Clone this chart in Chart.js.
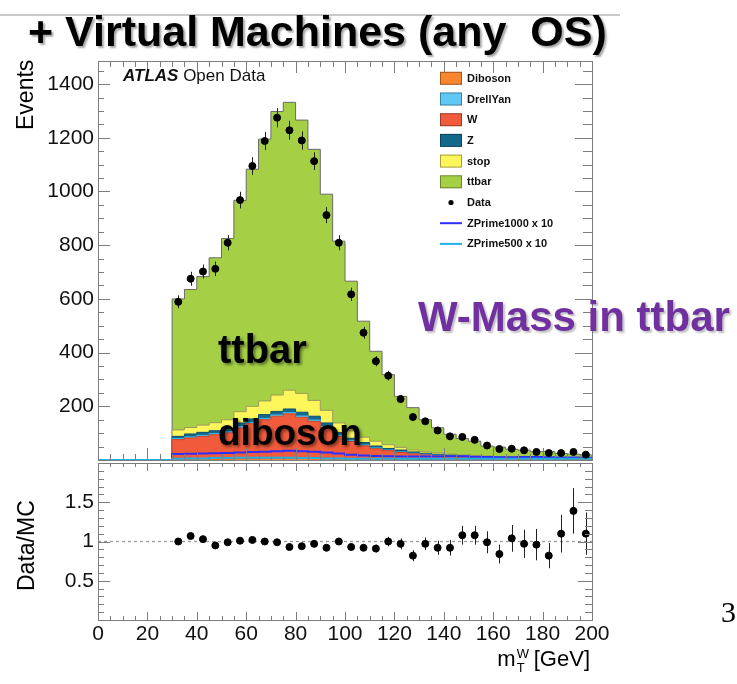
<!DOCTYPE html>
<html>
<head>
<meta charset="utf-8">
<title>W-Mass in ttbar</title>
<script src="https://cdn.jsdelivr.net/npm/chart.js@4.4.1/dist/chart.umd.min.js"></script>
<style>
  body { margin: 0; background: #fff; }
  #page { position: relative; width: 737px; height: 684px; overflow: hidden; font-family: "Liberation Sans", Arial, sans-serif; }
  canvas { position: absolute; left: 0; top: 0; }
  .txt { position: absolute; white-space: pre; line-height: 1; }
  #slideLine { position: absolute; left: 0; top: 14px; width: 620px; height: 2px; background: #c9c9c9; }
  #title { left: 28px; top: 10px; font-size: 43px; font-weight: bold; color: #000; text-shadow: 2px 2px 2px rgba(0,0,0,0.35); }
  #atlas { left: 123px; top: 67px; font-size: 17px; color: #111; }
  #atlas b { font-style: italic; }
  #ttbarTxt { left: 218px; top: 329px; font-size: 40px; font-weight: bold; color: #000; text-shadow: 2px 2px 3px rgba(0,0,0,0.45); }
  #dibosonTxt { left: 218px; top: 414px; font-size: 37px; font-weight: bold; color: #000; text-shadow: 2px 2px 3px rgba(0,0,0,0.45); }
  #wmassTxt { left: 418px; top: 296px; font-size: 42px; font-weight: bold; color: #7030a0; text-shadow: 2px 2px 2px rgba(0,0,0,0.25); }
  #pageNo { left: 721px; top: 597px; font-size: 30px; font-family: "Liberation Serif", "Times New Roman", serif; color: #000; }
  #yTitle { left: 14px; top: 130px; font-size: 23px; transform: rotate(-90deg); transform-origin: left top; }
  #rTitle { left: 15px; top: 591px; font-size: 23px; transform: rotate(-90deg); transform-origin: left top; }
  #xTitle { right: 147px; top: 648px; font-size: 22px; }
  #xTitle .ss { position: relative; display: inline-block; width: 12px; height: 22px; vertical-align: top; }
  #xTitle .ss span { position: absolute; left: 1px; font-size: 13px; line-height: 1; }
</style>
</head>
<body>
<div id="page">
  <div id="slideLine"></div>
  <canvas id="mainChart" width="737" height="684"></canvas>
  <canvas id="ratioChart" width="737" height="684"></canvas>
  <div class="txt" id="title">+ Virtual Machines (any  OS)</div>
  <div class="txt" id="atlas"><b>ATLAS</b> Open Data</div>
  <div class="txt" id="ttbarTxt">ttbar</div>
  <div class="txt" id="dibosonTxt">diboson</div>
  <div class="txt" id="wmassTxt">W-Mass in ttbar</div>
  <div class="txt" id="pageNo">3</div>
  <div class="txt" id="yTitle">Events</div>
  <div class="txt" id="rTitle">Data/MC</div>
  <div class="txt" id="xTitle">m<span class="ss"><span style="top:-1px">W</span><span style="top:13px">T</span></span> [GeV]</div>
</div>
<script>
// 5 GeV bins from 0 to 200 GeV (lower edges plus the last upper edge)
var binEdges = [0, 5, 10, 15, 20, 25, 30, 35, 40, 45, 50, 55, 60, 65, 70, 75, 80, 85, 90, 95,
                100, 105, 110, 115, 120, 125, 130, 135, 140, 145, 150, 155, 160, 165, 170, 175, 180, 185, 190, 195, 200];
// centres of the bins holding data (after the 30 GeV cut)
var binCentres = [32.5, 37.5, 42.5, 47.5, 52.5, 57.5, 62.5, 67.5, 72.5, 77.5, 82.5, 87.5, 92.5, 97.5,
                  102.5, 107.5, 112.5, 117.5, 122.5, 127.5, 132.5, 137.5, 142.5, 147.5, 152.5, 157.5,
                  162.5, 167.5, 172.5, 177.5, 182.5, 187.5, 192.5, 197.5];

// MC samples, events per bin (stacked bottom to top)
var diboson   = [0, 0, 0, 0, 0, 0, 3, 3, 4, 4, 4, 5, 5, 6, 6, 6, 6, 5, 5, 4, 4, 3, 3, 3, 2, 2, 2, 2, 1, 1, 1, 1, 1, 1, 1, 1, 1, 1, 1, 1];
var wJets     = [0, 0, 0, 0, 0, 0, 73, 79, 84, 90, 97, 114, 130, 144, 157, 166, 153, 139, 114, 84, 65, 50, 39, 32, 26, 21, 17, 14, 12, 10, 9, 7, 6, 5, 5, 4, 4, 3, 3, 3];
var drellYan  = [0, 0, 0, 0, 0, 0, 4, 4, 4, 4, 4, 5, 5, 5, 5, 5, 5, 5, 5, 4, 3, 3, 3, 2, 2, 2, 2, 2, 1, 1, 1, 1, 1, 1, 1, 1, 1, 1, 1, 1];
var zJets     = [0, 0, 0, 0, 0, 0, 8, 11, 11, 11, 13, 14, 13, 14, 13, 13, 14, 14, 14, 10, 9, 9, 7, 6, 7, 5, 4, 3, 4, 3, 2, 2, 2, 2, 1, 1, 1, 1, 1, 1];
var singleTop = [0, 0, 0, 0, 0, 0, 24, 24, 27, 30, 32, 42, 47, 51, 61, 70, 70, 59, 47, 36, 28, 20, 18, 14, 10, 7, 6, 5, 4, 4, 4, 4, 3, 3, 3, 3, 2, 2, 2, 2];
var ttbar     = [0, 0, 0, 0, 0, 0, 488, 514, 553, 614, 675, 787, 883, 975, 1056, 1072, 1018, 935, 805, 677, 557, 432, 335, 261, 190, 158, 119, 94, 74, 61, 53, 37, 35, 28, 26, 21, 23, 16, 14, 11];

// signal shapes scaled by 10
var zPrime1000 = [0, 0, 0, 0, 0, 0, 22, 23, 24, 25, 26, 28, 30, 31, 33, 34, 33, 31, 28, 24, 20, 17, 15, 14, 13, 13, 13, 13, 14, 14, 12, 11, 10, 10, 11, 11, 10, 9, 9, 8];
var zPrime500  = [0, 0, 0, 0, 0, 0, 5, 6, 6, 7, 7, 8, 8, 8, 8, 8, 7, 7, 6, 6, 5, 5, 5, 5, 5, 5, 5, 5, 5, 5, 5, 5, 5, 5, 5, 5, 5, 5, 5, 5];

// data and its statistical error
var dataEvents = [589, 675, 702, 712, 809, 968, 1095, 1188, 1275, 1228, 1190, 1113, 912, 809, 617, 474, 368, 314, 227, 160,
                  144, 110, 88, 86, 75, 54, 41, 42, 36, 30, 26, 26, 30, 20];
var dataErr    = [24, 26, 26, 27, 28, 31, 33, 34, 36, 35, 34, 33, 30, 28, 25, 22, 19, 18, 15, 13,
                  12, 10, 9, 9, 9, 7, 6, 6, 6, 5, 5, 5, 5, 4];

// Data/MC ratio panel
var ratioVals = [1.00, 1.07, 1.03, 0.95, 0.99, 1.01, 1.02, 1.00, 0.99, 0.93, 0.94, 0.97, 0.92, 1.00, 0.93, 0.92, 0.91, 1.00, 0.97, 0.82,
                 0.97, 0.92, 0.92, 1.08, 1.08, 0.99, 0.84, 1.04, 0.97, 0.96, 0.82, 1.10, 1.39, 1.10];
var ratioErr  = [0.03, 0.03, 0.03, 0.03, 0.03, 0.03, 0.03, 0.03, 0.03, 0.03, 0.03, 0.03, 0.03, 0.04, 0.04, 0.04, 0.05, 0.06, 0.07, 0.07,
                 0.08, 0.09, 0.10, 0.12, 0.12, 0.14, 0.12, 0.17, 0.18, 0.20, 0.16, 0.24, 0.29, 0.27];

var legendOrder = ['Diboson', 'DrellYan', 'W', 'Z', 'stop', 'ttbar', 'Data', 'ZPrime1000 x 10', 'ZPrime500 x 10'];
var FONT = '"Liberation Sans", Arial, sans-serif';

// histogram outline: one point per bin edge, last value repeated at the upper edge
function histPoints(values) {
    return binEdges.map(function (x, i) {
        return { x: x, y: values[Math.min(i, values.length - 1)] };
    });
}
function pointsAt(xs, ys) {
    return xs.map(function (x, i) { return { x: x, y: ys[i] }; });
}

// ROOT style frame with inward ticks on all four sides
var rootFrame = {
    id: 'rootFrame',
    afterDatasetsDraw: function (chart, args, o) {
        var ctx = chart.ctx, a = chart.chartArea, xs = chart.scales.x, ys = chart.scales.y;
        ctx.save();
        ctx.strokeStyle = '#7d7d7d';
        ctx.lineWidth = 1;
        var n = Math.round((xs.max - xs.min) / o.xMinor);
        for (var i = 0; i <= n; i++) {
            var v = xs.min + i * o.xMinor;
            var major = i % Math.round(o.xMajor / o.xMinor) === 0;
            var px = Math.round(xs.getPixelForValue(v)) + 0.5;
            var len = major ? o.xLen[0] : o.xLen[1];
            ctx.beginPath();
            ctx.moveTo(px, a.bottom); ctx.lineTo(px, a.bottom - len);
            ctx.moveTo(px, a.top); ctx.lineTo(px, a.top + len);
            ctx.stroke();
        }
        n = Math.round((o.yTop - ys.min) / o.yMinor);
        for (var j = 0; j <= n; j++) {
            var w = ys.min + j * o.yMinor;
            var maj = j % Math.round(o.yMajor / o.yMinor) === 0;
            var py = Math.round(ys.getPixelForValue(w)) + 0.5;
            ctx.beginPath();
            ctx.moveTo(a.left, py); ctx.lineTo(a.left + (maj ? o.leftLen[0] : o.leftLen[1]), py);
            ctx.moveTo(a.right, py); ctx.lineTo(a.right - (maj ? o.rightLen[0] : o.rightLen[1]), py);
            ctx.stroke();
        }
        ctx.strokeRect(a.left + 0.5, a.top + 0.5, a.right - a.left, a.bottom - a.top);
        ctx.restore();
    }
};

// vertical error bars under the data markers
var errorBars = {
    id: 'errorBars',
    beforeDatasetDraw: function (chart, args) {
        var ds = chart.data.datasets[args.index];
        if (!ds.yErr) return;
        var ctx = chart.ctx, xs = chart.scales.x, ys = chart.scales.y;
        ctx.save();
        ctx.strokeStyle = '#222';
        ctx.lineWidth = 1;
        ds.data.forEach(function (p, i) {
            var px = Math.round(xs.getPixelForValue(p.x)) + 0.5;
            ctx.beginPath();
            ctx.moveTo(px, ys.getPixelForValue(p.y - ds.yErr[i]));
            ctx.lineTo(px, ys.getPixelForValue(p.y + ds.yErr[i]));
            ctx.stroke();
        });
        ctx.restore();
    }
};

// legend box in the top right corner of the main pad
var rootLegend = {
    id: 'rootLegend',
    afterDraw: function (chart, args, o) {
        var ctx = chart.ctx;
        ctx.save();
        ctx.font = 'bold 11px ' + FONT;
        ctx.textBaseline = 'middle';
        legendOrder.forEach(function (label, k) {
            var ds = chart.data.datasets.find(function (d) { return d.label === label; });
            var cy = o.top + k * o.step;
            if (ds.legendKind === 'box') {
                ctx.fillStyle = ds.backgroundColor;
                ctx.fillRect(o.left, cy - 6.5, 22, 13);
                ctx.strokeStyle = 'rgba(0,0,0,0.35)';
                ctx.lineWidth = 1;
                ctx.strokeRect(o.left + 0.5, cy - 6, 21, 12);
            } else if (ds.legendKind === 'dot') {
                ctx.fillStyle = '#000';
                ctx.beginPath();
                ctx.arc(o.left + 11, cy, 2.6, 0, Math.PI * 2);
                ctx.fill();
            } else {
                ctx.strokeStyle = ds.borderColor;
                ctx.lineWidth = 2;
                ctx.beginPath();
                ctx.moveTo(o.left, cy); ctx.lineTo(o.left + 22, cy);
                ctx.stroke();
            }
            ctx.fillStyle = '#111';
            ctx.fillText(label, o.left + 27, cy + 0.5);
        });
        ctx.restore();
    }
};

function stackSet(label, values, fill, line, fillMode) {
    return {
        label: label, data: histPoints(values), stepped: true, fill: fillMode,
        backgroundColor: fill, borderColor: line, borderWidth: 1, pointRadius: 0,
        legendKind: 'box'
    };
}

var mainChart = new Chart(document.getElementById('mainChart'), {
    type: 'line',
    data: {
        datasets: [
            { label: 'Data', data: pointsAt(binCentres, dataEvents), yErr: dataErr, showLine: false, stack: 'data',
              pointRadius: 3.5, pointBackgroundColor: '#000', pointBorderColor: '#000', borderColor: '#000', legendKind: 'dot' },
            { label: 'ZPrime500 x 10', data: histPoints(zPrime500), stepped: true, fill: false, stack: 'zp500',
              borderColor: '#1fb0e8', borderWidth: 2, pointRadius: 0, legendKind: 'line' },
            { label: 'ZPrime1000 x 10', data: histPoints(zPrime1000), stepped: true, fill: false, stack: 'zp1000',
              borderColor: '#2e2eff', borderWidth: 2, pointRadius: 0, legendKind: 'line' },
            stackSet('Diboson', diboson, '#f7862e', '#c8621a', 'origin'),
            stackSet('W', wJets, '#f05b3b', '#c8452a', '-1'),
            stackSet('DrellYan', drellYan, '#5fc8f5', '#33b6ec', '-1'),
            stackSet('Z', zJets, '#13698c', '#0d5070', '-1'),
            stackSet('stop', singleTop, '#fdf65a', '#9a9a55', '-1'),
            stackSet('ttbar', ttbar, '#a5d045', '#6b6b6b', '-1')
        ]
    },
    options: {
        responsive: false,
        animation: false,
        events: [],
        layout: { padding: { top: 61, right: 145, bottom: 224, left: 0 } },
        plugins: {
            legend: { display: false },
            tooltip: { enabled: false },
            rootFrame: { xMinor: 5, xMajor: 20, xLen: [12, 6], yMinor: 50, yMajor: 200, yTop: 1450, leftLen: [12, 6], rightLen: [17, 9] },
            rootLegend: { left: 440, top: 78.3, step: 20.7 }
        },
        scales: {
            x: { type: 'linear', min: 0, max: 200, display: false },
            y: {
                min: 0, max: 1486, stacked: true,
                grid: { display: false, drawTicks: false },
                border: { display: false },
                ticks: {
                    stepSize: 200, includeBounds: false, padding: 4, autoSkip: false, color: '#111',
                    font: { family: FONT, size: 21 },
                    callback: function (v) { return (v > 0 && v % 200 === 0) ? String(v) : ''; }
                },
                afterFit: function (scale) { scale.width = 98; }
            }
        }
    },
    plugins: [errorBars, rootFrame, rootLegend]
});

var ratioChart = new Chart(document.getElementById('ratioChart'), {
    type: 'line',
    data: {
        datasets: [
            { label: 'Data/MC', data: pointsAt(binCentres, ratioVals), yErr: ratioErr, showLine: false,
              pointRadius: 3.5, pointBackgroundColor: '#000', pointBorderColor: '#000', borderColor: '#000' },
            { label: 'unity', data: [{ x: 0, y: 1 }, { x: 200, y: 1 }], borderColor: '#9a9a9a', borderWidth: 1.3,
              borderDash: [3, 3], pointRadius: 0, fill: false }
        ]
    },
    options: {
        responsive: false,
        animation: false,
        events: [],
        layout: { padding: { top: 463, right: 145, bottom: 34, left: 0 } },
        plugins: {
            legend: { display: false },
            tooltip: { enabled: false },
            rootFrame: { xMinor: 5, xMajor: 20, xLen: [8, 4], yMinor: 0.1, yMajor: 0.5, yTop: 2, leftLen: [12, 6], rightLen: [14, 7] }
        },
        scales: {
            x: {
                type: 'linear', min: 0, max: 200,
                grid: { display: false, drawTicks: false },
                border: { display: false },
                ticks: { stepSize: 20, padding: 2, autoSkip: false, maxRotation: 0, color: '#111', font: { family: FONT, size: 21 } },
                afterFit: function (scale) { scale.height = 30; }
            },
            y: {
                min: 0, max: 2,
                grid: { display: false, drawTicks: false },
                border: { display: false },
                ticks: {
                    stepSize: 0.5, padding: 4, autoSkip: false, color: '#111',
                    font: { family: FONT, size: 21 },
                    callback: function (v) { return (v > 0.25 && v < 1.75) ? String(v) : ''; }
                },
                afterFit: function (scale) { scale.width = 98; }
            }
        }
    },
    plugins: [errorBars, rootFrame]
});
</script>
</body>
</html>
